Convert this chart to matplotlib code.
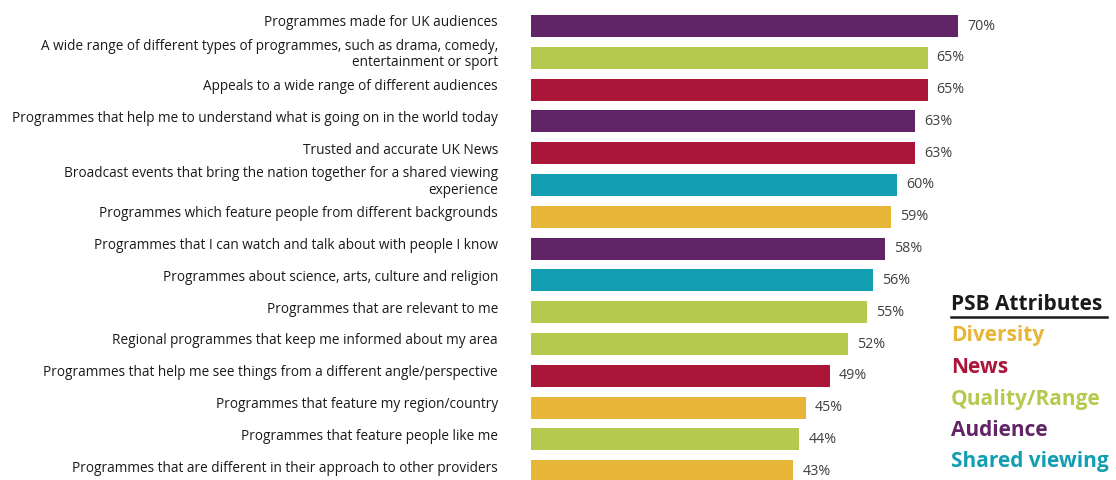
"""
PSB attributes rated as important, horizontal bar chart
outputs: out.png
"""

import matplotlib.pyplot as plt
from matplotlib.transforms import ScaledTranslation, blended_transform_factory

# -- DATA --
labels = [
    "Programmes made for UK audiences",
    "A wide range of different types of programmes, such as drama, comedy,\nentertainment or sport",
    "Appeals to a wide range of different audiences",
    "Programmes that help me to understand what is going on in the world today",
    "Trusted and accurate UK News",
    "Broadcast events that bring the nation together for a shared viewing\nexperience",
    "Programmes which feature people from different backgrounds",
    "Programmes that I can watch and talk about with people I know",
    "Programmes about science, arts, culture and religion",
    "Programmes that are relevant to me",
    "Regional programmes that keep me informed about my area",
    "Programmes that help me see things from a different angle/perspective",
    "Programmes that feature my region/country",
    "Programmes that feature people like me",
    "Programmes that are different in their approach to other providers",
]
values = [70, 65, 65, 63, 63, 60, 59, 58, 56, 55, 52, 49, 45, 44, 43]
attributes = [
    "Audience", "Quality/Range", "News", "Audience", "News",
    "Shared viewing", "Diversity", "Audience", "Shared viewing", "Quality/Range",
    "Quality/Range", "News", "Diversity", "Quality/Range", "Diversity",
]

colors = {
    "Diversity": "#e7b636",
    "News": "#ab1538",
    "Quality/Range": "#b5c94f",
    "Audience": "#612466",
    "Shared viewing": "#119fb1",
}

plt.rcParams["font.family"] = ["Open Sans", "DejaVu Sans"]

# -- PLOT --
W, H = 1116, 480
fig = plt.figure(figsize=(W / 100, H / 100), dpi=100)
x0 = 531
ax = fig.add_axes([x0 / W, 0, (W - x0) / W, 1])

px_per_pct = 6.1
row_px, first_px = 31.8, 26
ax.set_xlim(0, (W - x0) / px_per_pct)
ax.set_ylim((H - first_px) / row_px, -first_px / row_px)

pos = list(range(len(values)))
bar_colors = [colors[a] for a in attributes]
ax.barh(pos, values, height=0.69, color=bar_colors)

for y, v in zip(pos, values):
    ax.text(v + 1.5, y, f"{v}%", ha="left", va="center",
            fontsize=10.3, color="#404040")

# Category labels, right-aligned just left of the bars, nudged up a little
lab_tr = blended_transform_factory(fig.transFigure, ax.transData) + \
    ScaledTranslation(0, 0.03, fig.dpi_scale_trans)
for y, lab in zip(pos, labels):
    ax.text(498 / W, y, lab, transform=lab_tr, ha="right", va="center",
            fontsize=9.8, color="#1a1a1a", linespacing=1.1)

ax.set_yticks([])
ax.set_xticks([])
for s in ax.spines.values():
    s.set_visible(False)

# Attribute key
kx = 951
fig.text(kx / W, 1 - 304 / H, "PSB Attributes", fontsize=15, fontweight="bold",
         color="#1a1a1a", ha="left", va="center")
fig.add_artist(plt.Line2D([kx / W, 1107 / W], [1 - 317 / H, 1 - 317 / H],
                          color="#1a1a1a", linewidth=1.8))
for i, name in enumerate(colors):
    fig.text(kx / W, 1 - (336 + 31.5 * i) / H, name, fontsize=15,
             fontweight="bold", color=colors[name], ha="left", va="center")

fig.savefig("out.png", dpi=100)
